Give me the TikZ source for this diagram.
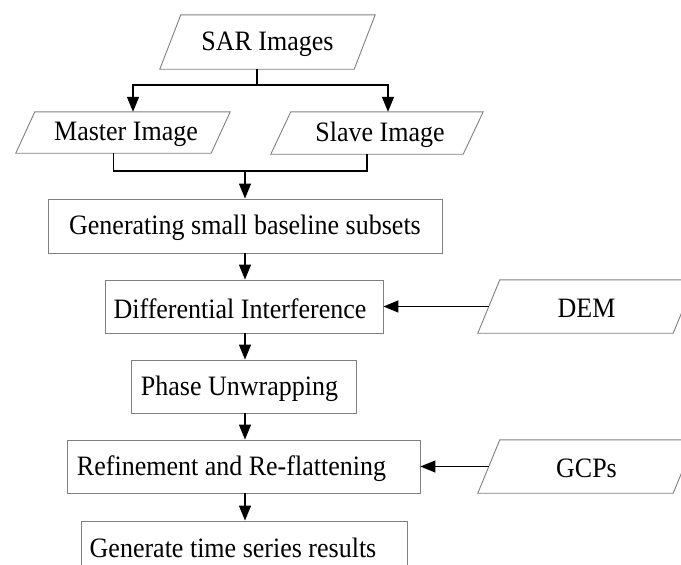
\documentclass[tikz,border=0pt]{standalone}
\usepackage{fontspec}
\usepackage{graphicx}
\setmainfont{Liberation Serif}
\usetikzlibrary{arrows.meta,calc}
\newcommand{\vtxt}[1]{\scalebox{1}[1.08]{#1}}
\tikzset{
  boxline/.style={draw=black!50, line width=0.9pt},
  procbox/.style={boxline, rectangle, inner sep=0pt},
  txt/.style={inner sep=0pt, font=\fontsize{26}{30}\selectfont},
  flow/.style={draw=black, line width=1.4pt},
  flowarrow/.style={flow, -{Triangle[length=15pt,width=12pt]}},
}
\newcommand{\ioshape}[8]{%
  \node[minimum width=#4pt, minimum height=#5pt, inner sep=0pt,
        label={[txt, xshift=#8pt, yshift=-2pt]center:\vtxt{#7}}] (#1) at (#2,#3) {};
  \draw[boxline] (#1.south west) -- ([xshift=-#6pt]#1.south east) -- (#1.north east) -- ([xshift=#6pt]#1.north west) -- cycle;
}
\begin{document}
\begin{tikzpicture}[x=1pt,y=-1pt]
\useasboundingbox (0,0) rectangle (681,565);
\clip (0,0) rectangle (681,565);
\fill[white] (0,0) rectangle (681,565);

\ioshape{sar}{267.5}{42}{215}{54}{21}{SAR Images}{0}
\ioshape{master}{123}{132.5}{214}{41}{19}{Master Image}{3}
\ioshape{slave}{377}{133}{212}{42}{20}{Slave Image}{3}
\ioshape{dem}{586.5}{306.5}{217}{53}{22}{DEM}{0}
\ioshape{gcp}{586.5}{466.5}{217}{53}{22}{GCPs}{0}

\node[procbox, minimum width=394pt, minimum height=54pt,
      label={[txt, yshift=-2pt]center:\vtxt{Generating small baseline subsets}}] (gen) at (245,226) {};
\node[procbox, minimum width=278pt, minimum height=53pt,
      label={[txt, xshift=-4pt, yshift=-2pt]center:\vtxt{Differential Interference}}] (diff) at (244,306.5) {};
\node[procbox, minimum width=225pt, minimum height=53pt,
      label={[txt, xshift=-4pt, yshift=-2pt]center:\vtxt{Phase Unwrapping}}] (phase) at (243.5,386.5) {};
\node[procbox, minimum width=353pt, minimum height=53pt,
      label={[txt, xshift=-12pt, yshift=-2pt]center:\vtxt{Refinement and Re-flattening}}] (refine) at (243.5,466.5) {};
\node[procbox, minimum width=326pt, minimum height=60pt,
      label={[txt, xshift=-11pt, yshift=3pt]center:\vtxt{Generate time series results}}] (result) at (244,551) {};

\coordinate (split) at (257,85);
\coordinate (merge) at (245,171);

\draw[flow] ([xshift=-10.5pt]sar.south) -- (split);
\draw[flowarrow] (split) -| ([xshift=10pt]master.north);
\draw[flowarrow] (split) -| ([xshift=11pt]slave.north);
\draw[flow] ([xshift=-9.5pt]master.south) |- (merge) -| ([xshift=-10pt]slave.south);
\draw[flowarrow] (merge) -- (gen.north);
\draw[flowarrow] (gen.south) -- (gen.south |- diff.north);
\draw[flowarrow] (gen.south |- diff.south) -- (gen.south |- phase.north);
\draw[flowarrow] (gen.south |- phase.south) -- (gen.south |- refine.north);
\draw[flowarrow] (gen.south |- refine.south) -- (gen.south |- result.north);
\draw[flowarrow] ([xshift=11pt]dem.west) -- (diff.east);
\draw[flowarrow] ([xshift=11pt]gcp.west) -- (refine.east);
\end{tikzpicture}
\end{document}
